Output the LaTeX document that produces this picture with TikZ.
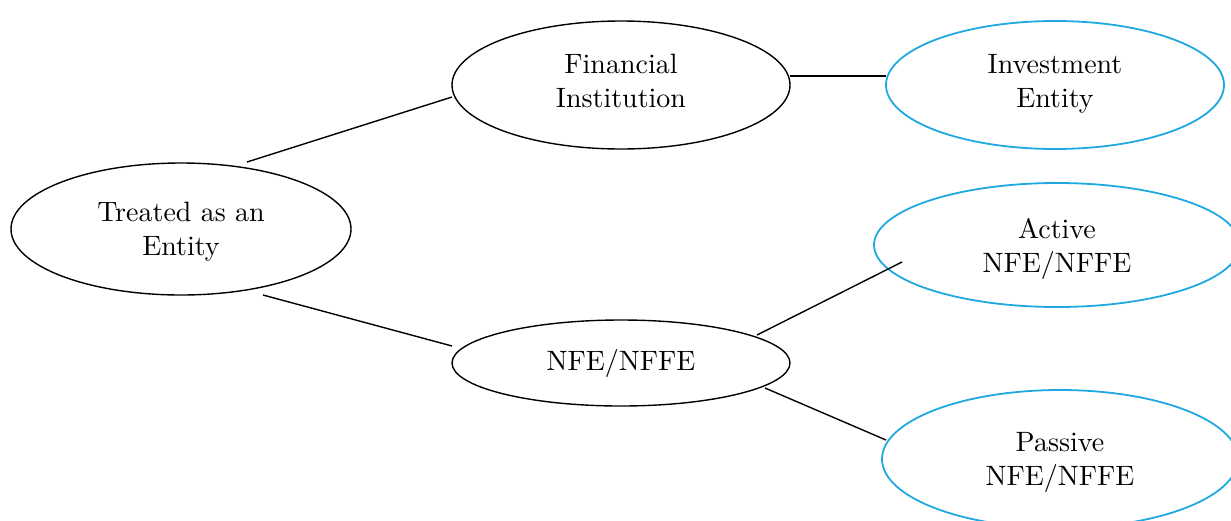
\documentclass[tikz,border=0pt]{standalone}
\usepackage{fontspec}
\setmainfont{lmroman10-regular.otf}
\usetikzlibrary{shapes.geometric}
\definecolor{bluec}{RGB}{32,168,224}
\begin{document}
\begin{tikzpicture}[x=1pt,y=-1pt,
  ell/.style={ellipse,draw=black,line width=1.4pt,inner sep=0pt,align=center,
    font=\fontsize{28}{34}\selectfont},
  bell/.style={ell,draw=bluec,line width=1.8pt},
  conn/.style={draw=black,line width=1.4pt}]
\useasboundingbox (0,0) rectangle (1231,520);
\node[ell,minimum width=340pt,minimum height=132pt,text depth=0pt] (T) at (181,229) {Treated as an\\Entity};
\node[ell,minimum width=338pt,minimum height=128pt,text depth=9pt] (FI) at (621,85) {Financial\\Institution};
\node[bell,minimum width=338pt,minimum height=128pt,text depth=9pt] (IE) at (1055,85) {Investment\\Entity};
\node[ell,minimum width=338pt,minimum height=86pt] (N) at (621,363) {NFE/NFFE};
\node[bell,minimum width=366pt,minimum height=124pt,text depth=0pt] (A) at (1057,245) {Active\\NFE/NFFE};
\node[bell,minimum width=356pt,minimum height=138pt,text depth=1pt] (P) at (1060,459) {Passive\\NFE/NFFE};
\draw[conn] ([shift={(66,-67)}]T.center) -- ([shift={(-169,12)}]FI.center);
\draw[conn] ([shift={(82,66)}]T.center) -- ([shift={(-169,-17)}]N.center);
\draw[conn] ([shift={(169,-9)}]FI.center) -- ([shift={(-169,-9)}]IE.center);
\draw[conn] ([shift={(136,-28)}]N.center) -- ([shift={(-155,17)}]A.center);
\draw[conn] ([shift={(144,25)}]N.center) -- ([shift={(-174,-19)}]P.center);
\end{tikzpicture}
\end{document}
